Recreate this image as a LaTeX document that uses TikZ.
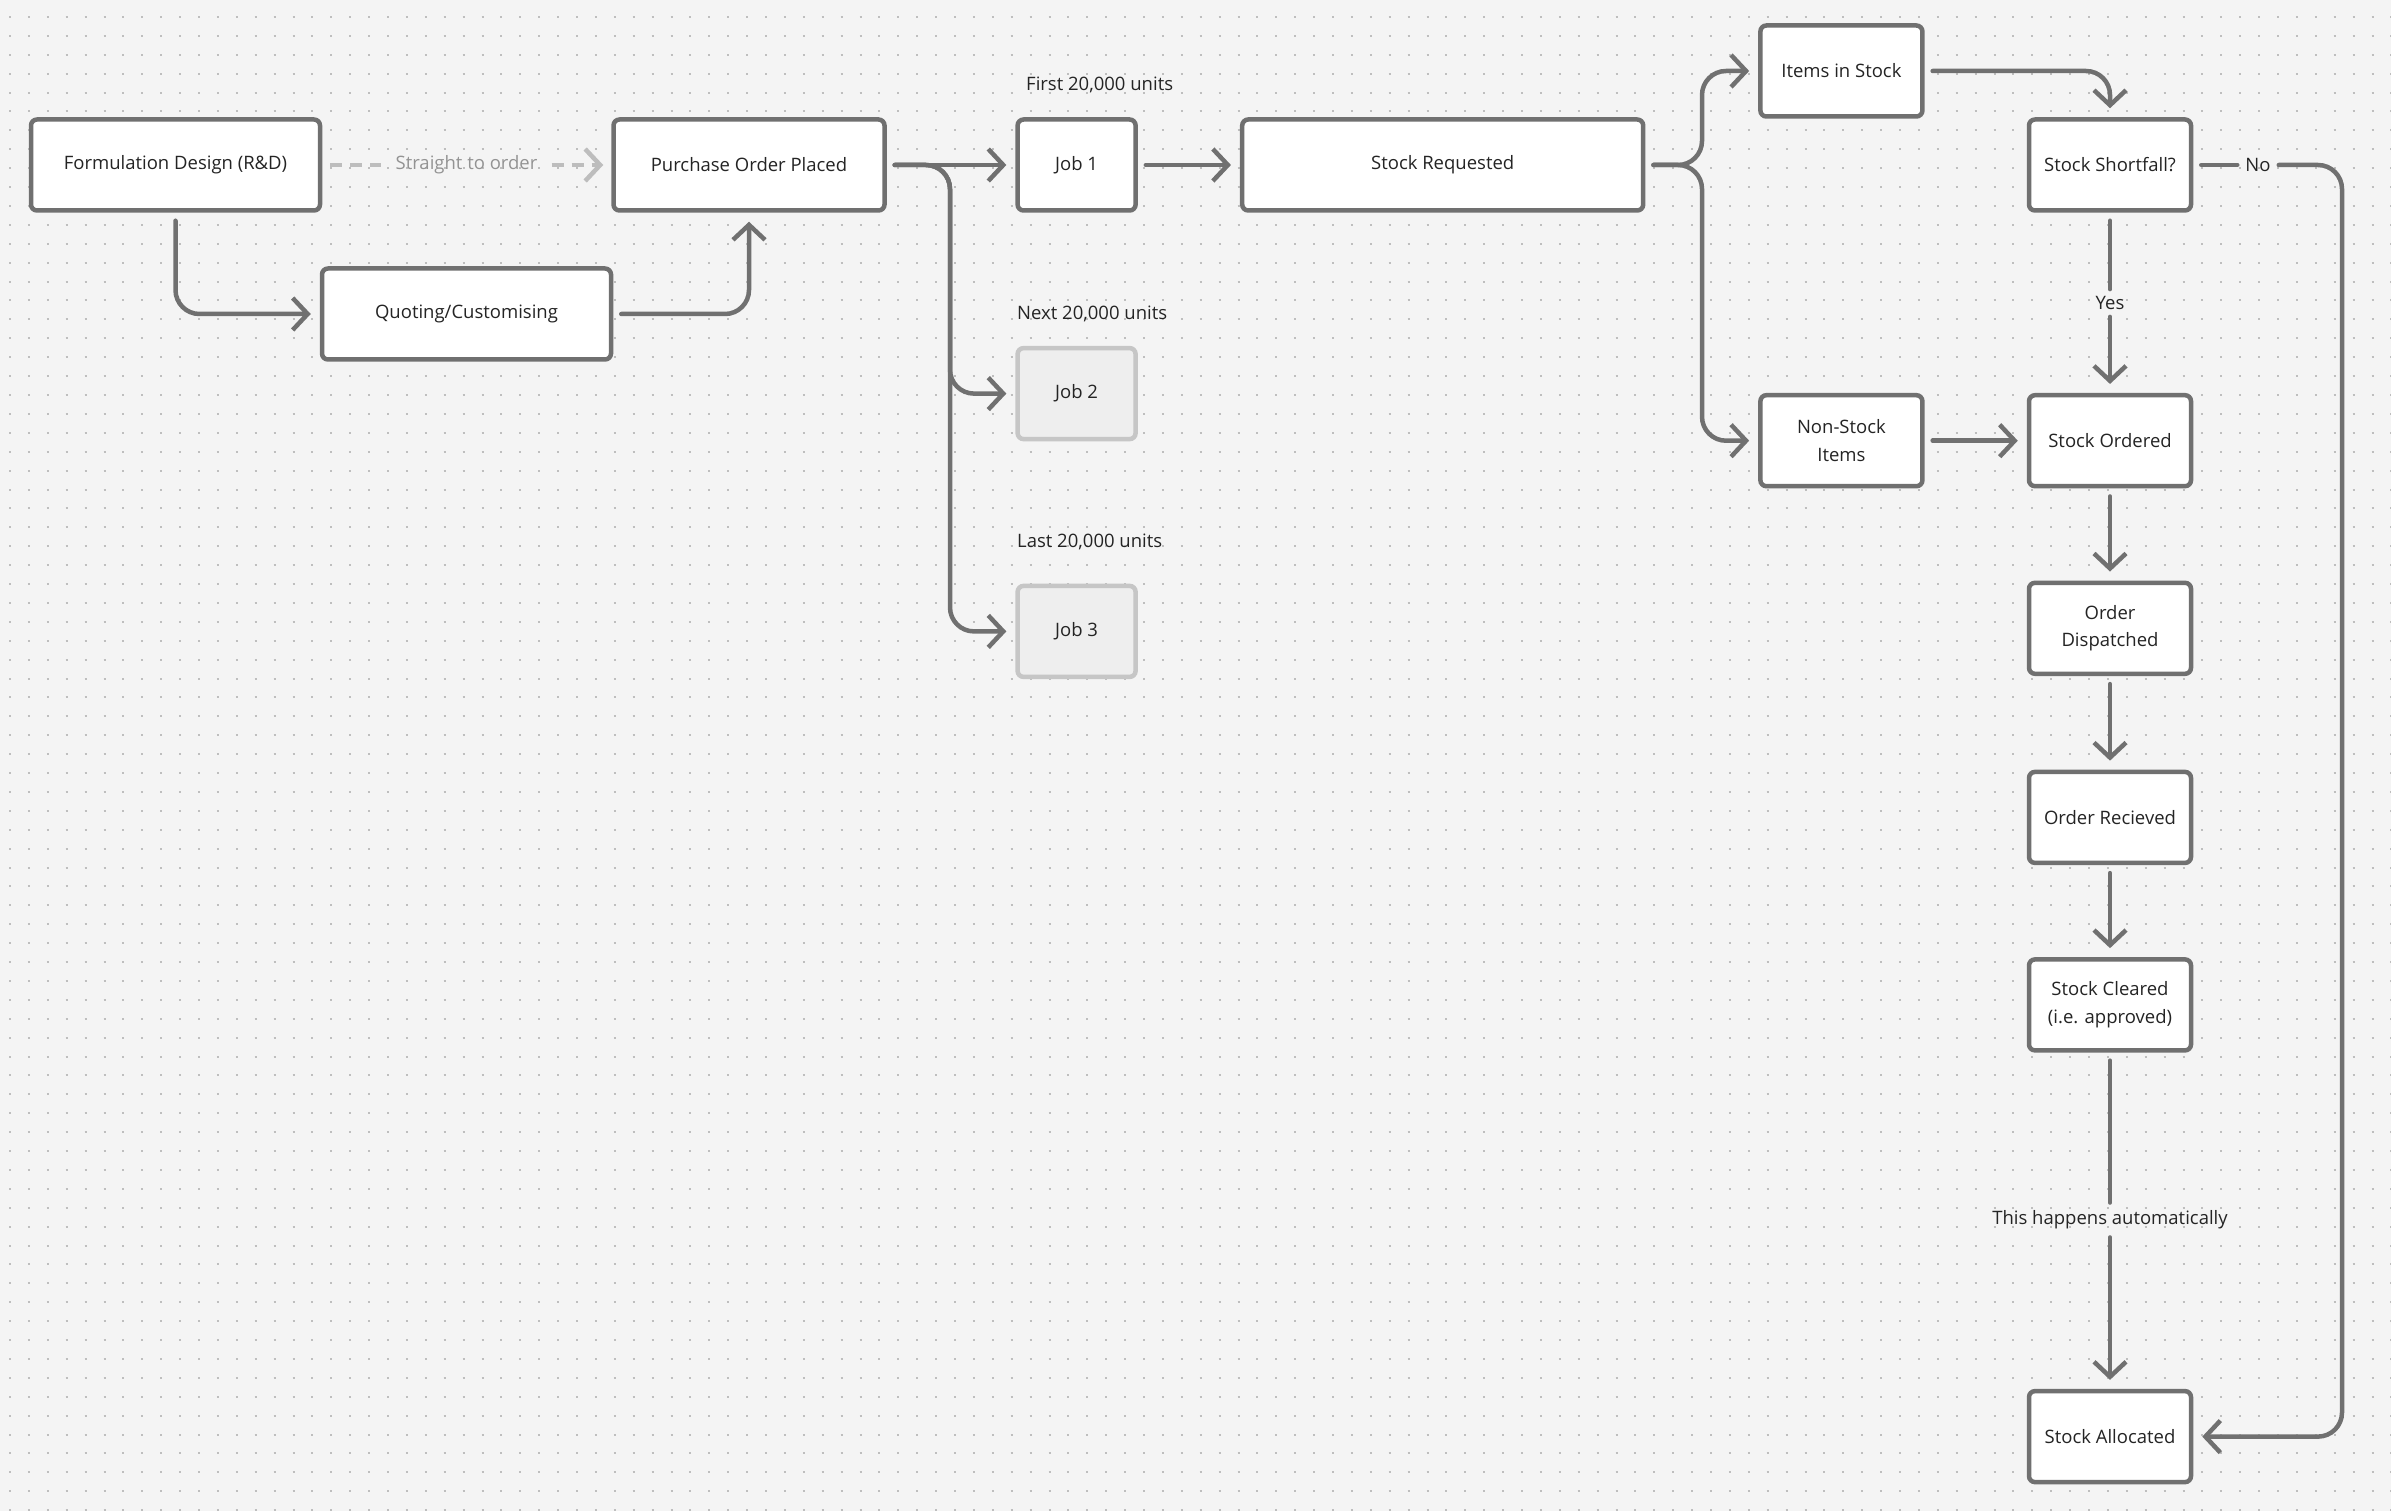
\documentclass[tikz,border=0pt]{standalone}
\usepackage{fontspec}
\setmainfont{Open Sans}
\usetikzlibrary{arrows.meta}
\definecolor{bgc}{HTML}{F4F4F4}
\definecolor{dotc}{HTML}{BEBEBE}
\definecolor{linec}{HTML}{707070}
\definecolor{txtc}{HTML}{242424}
\definecolor{lightline}{HTML}{BDBDBD}
\definecolor{lighttxt}{HTML}{939393}
\definecolor{jobfill}{HTML}{EEEEEE}
\definecolor{jobline}{HTML}{C6C6C6}
\begin{document}
\begin{tikzpicture}[x=1pt,y=-1pt,
  box/.style={draw=linec, line width=4.5pt, fill=white, rounded corners=6pt,
    text=txtc, font=\fontsize{18.5}{27.5}\selectfont, align=center,
    minimum height=91pt, inner sep=0pt},
  jobbox/.style={box, draw=jobline, fill=jobfill},
  lbl/.style={text=txtc, font=\fontsize{18.5}{22}\selectfont, inner sep=2pt},
  conn/.style={draw=linec, line width=4.5pt, line cap=round, line join=round,
    rounded corners=24pt, shorten >=9pt, shorten <=8pt},
  arr/.style={-{Straight Barb[length=15pt,width=32pt]}},
  dconn/.style={draw=lightline, line width=4.5pt, dash pattern=on 12pt off 8pt,
    shorten >=8pt, shorten <=8pt},
]
\useasboundingbox (0,0) rectangle (2391,1511);
\fill[bgc] (0,0) rectangle (2391,1511);
\foreach \r in {0,...,79}
  \draw[dotc, line width=2pt, dash pattern=on 2pt off 16.9pt] (9,{17+18.9*\r}) -- (2391,{17+18.9*\r});

% nodes
\node[box, minimum width=289pt] (fd) at (175.5,165) {Formulation Design (R\&D)};
\node[box, minimum width=271pt] (po) at (749,165) {Purchase Order Placed};
\node[box, minimum width=289pt] (qc) at (466.5,314) {Quoting/Customising};
\node[box, minimum width=118pt] (j1) at (1076.6,165) {Job 1};
\node[box, minimum width=401pt] (sr) at (1442.7,165) {Stock Requested};
\node[jobbox, minimum width=118pt] (j2) at (1076.6,393.6) {Job 2};
\node[jobbox, minimum width=118pt] (j3) at (1076.6,631.4) {Job 3};
\node[box, minimum width=162pt] (is) at (1841.4,71) {Items in Stock};
\node[box, minimum width=162pt] (ss) at (2110,165) {Stock Shortfall?};
\node[box, minimum width=162pt] (ns) at (1841.4,440.7) {Non-Stock\\Items};
\node[box, minimum width=162pt] (so) at (2110,440.7) {Stock Ordered};
\node[box, minimum width=162pt] (od) at (2110,628.3) {Order\\Dispatched};
\node[box, minimum width=162pt] (orc) at (2110,817.4) {Order Recieved};
\node[box, minimum width=162pt] (sc) at (2110,1004.9) {Stock Cleared\\(i.e. approved)};
\node[box, minimum width=162pt] (sa) at (2110,1436.6) {Stock Allocated};

% labels
\node[lbl, anchor=west] (l1) at (1024,85.4) {First 20,000 units};
\node[lbl, anchor=west] (l2) at (1015,314) {Next 20,000 units};
\node[lbl, anchor=west] (l3) at (1015,541.5) {Last 20,000 units};
\node[lbl, text=lighttxt, inner xsep=6pt] (st) at (466.5,165) {Straight to order};
\node[lbl, inner sep=7pt] (yes) at (2110,303) {Yes};
\node[lbl, inner xsep=8pt] (no) at (2258,165) {No};
\node[lbl, inner ysep=8pt] (auto) at (2110,1220) {This happens automatically};

% branch points
\coordinate (b1) at (950,165);
\coordinate (b2) at (1702,165);
\coordinate (b3) at (2342,165);

% connectors
\draw[dconn] (fd.east) -- (st.west);
\draw[dconn, arr] (st.east) -- (po.west);
\draw[conn, arr] (fd.south) |- (qc.west);
\draw[conn, arr] (qc.east) -| (po.south);
\draw[conn, arr] (po.east) -- (j1.west);
\draw[conn, arr] (po.east) -- (b1) |- (j2.west);
\draw[conn, arr] (po.east) -- (b1) |- (j3.west);
\draw[conn, arr] (j1.east) -- (sr.west);
\draw[conn, arr] (sr.east) -- (b2) |- (is.west);
\draw[conn, arr] (sr.east) -- (b2) |- (ns.west);
\draw[conn, arr] (is.east) -| (ss.north);
\draw[conn, shorten >=0pt] (ss.south) -- (yes.north);
\draw[conn, arr, shorten <=0pt] (yes.south) -- (so.north);
\draw[conn, shorten >=0pt] (ss.east) -- (no.west);
\draw[conn, arr, shorten <=0pt] (no.east) -- (b3) |- (sa.east);
\draw[conn, arr] (ns.east) -- (so.west);
\draw[conn, arr] (so.south) -- (od.north);
\draw[conn, arr] (od.south) -- (orc.north);
\draw[conn, arr] (orc.south) -- (sc.north);
\draw[conn, shorten >=0pt] (sc.south) -- (auto.north);
\draw[conn, arr, shorten <=0pt] (auto.south) -- (sa.north);
\end{tikzpicture}
\end{document}
